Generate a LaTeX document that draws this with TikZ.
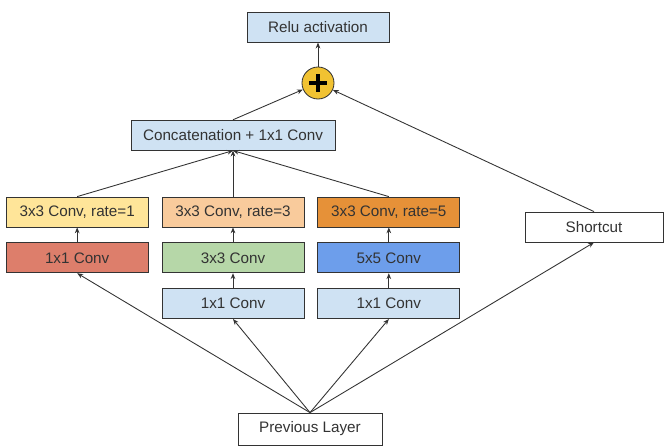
\documentclass[tikz,border=0pt]{standalone}
\usepackage{fontspec}
\setmainfont{Liberation Sans}
\usetikzlibrary{positioning, arrows.meta}

\definecolor{paleblue}{HTML}{CFE2F3}
\definecolor{paleyellow}{HTML}{FFE599}
\definecolor{paleorange}{HTML}{F9CB9C}
\definecolor{deeporange}{HTML}{E69138}
\definecolor{brickred}{HTML}{DD7E6B}
\definecolor{palegreen}{HTML}{B6D7A8}
\definecolor{cornflower}{HTML}{6D9EEB}
\definecolor{sumyellow}{HTML}{F1C232}
\definecolor{inkgray}{HTML}{333333}

\begin{document}
\begin{tikzpicture}[block/.style={rectangle,draw=inkgray,fill=paleblue,line width=0.7pt,minimum height=0.9cm,minimum width=4.26cm,inner sep=0pt,text=inkgray,font=\fontsize{13}{15}\selectfont},
  adder/.style={circle,draw=inkgray,fill=sumyellow,line width=0.7pt,minimum size=0.96cm,inner sep=0pt,
    path picture={\draw[black,line width=3.2pt] ([xshift=-7.5pt]path picture bounding box.center) -- ([xshift=7.5pt]path picture bounding box.center);
      \draw[black,line width=3.2pt] ([yshift=-7.5pt]path picture bounding box.center) -- ([yshift=7.5pt]path picture bounding box.center);}},
  link/.style={-{Stealth[length=5pt,width=4pt]},draw=inkgray,line width=0.75pt},
  node distance = 0.45cm and 0.39cm ]
\useasboundingbox (0,0) rectangle (19.92,-13.41);
% parallel branches
\node (r3) [block,fill=paleorange] at (6.99,-6.36) {3x3 Conv, rate=3};
\node (r1) [block,fill=paleyellow,left=of r3] {3x3 Conv, rate=1};
\node (r5) [block,fill=deeporange,right=of r3] {3x3 Conv, rate=5};
\node (c1) [block,fill=brickred,below=of r1] {1x1 Conv};
\node (c3) [block,fill=palegreen,below=of r3] {3x3 Conv};
\node (c5) [block,fill=cornflower,below=of r5] {5x5 Conv};
\node (p3) [block,below=of c3] {1x1 Conv};
\node (p5) [block,below=of c5] {1x1 Conv};
% merge and output
\node (concat) [block,minimum width=6.12cm,above=1.38cm of r3] {Concatenation + 1x1 Conv};
\node (sum) [adder] at (9.54,-2.49) {};
\node (relu) [block,above=0.72cm of sum] {Relu activation};
\node (shortcut) [block,fill=white,minimum width=4.14cm] at (17.82,-6.81) {Shortcut};
\node (prev) [block,fill=white,minimum width=4.32cm,minimum height=0.96cm] at (9.3,-12.87) {Previous Layer};

\draw [link] (prev.north) -- (c1.south);
\draw [link] (prev.north) -- (p3.south);
\draw [link] (prev.north) -- (p5.south);
\draw [link] (prev.north) -- (shortcut.south);
\draw [link] (c1) -- (r1);
\draw [link] (p3) -- (c3);
\draw [link] (c3) -- (r3);
\draw [link] (p5) -- (c5);
\draw [link] (c5) -- (r5);
\draw [link] (r1.north) -- (concat.south);
\draw [link] (r3.north) -- (concat.south);
\draw [link] (r5.north) -- (concat.south);
\draw [link] (concat.north) -- (sum);
\draw [link] (shortcut.north) -- (sum);
\draw [link] (sum) -- (relu);
\end{tikzpicture}
\end{document}
